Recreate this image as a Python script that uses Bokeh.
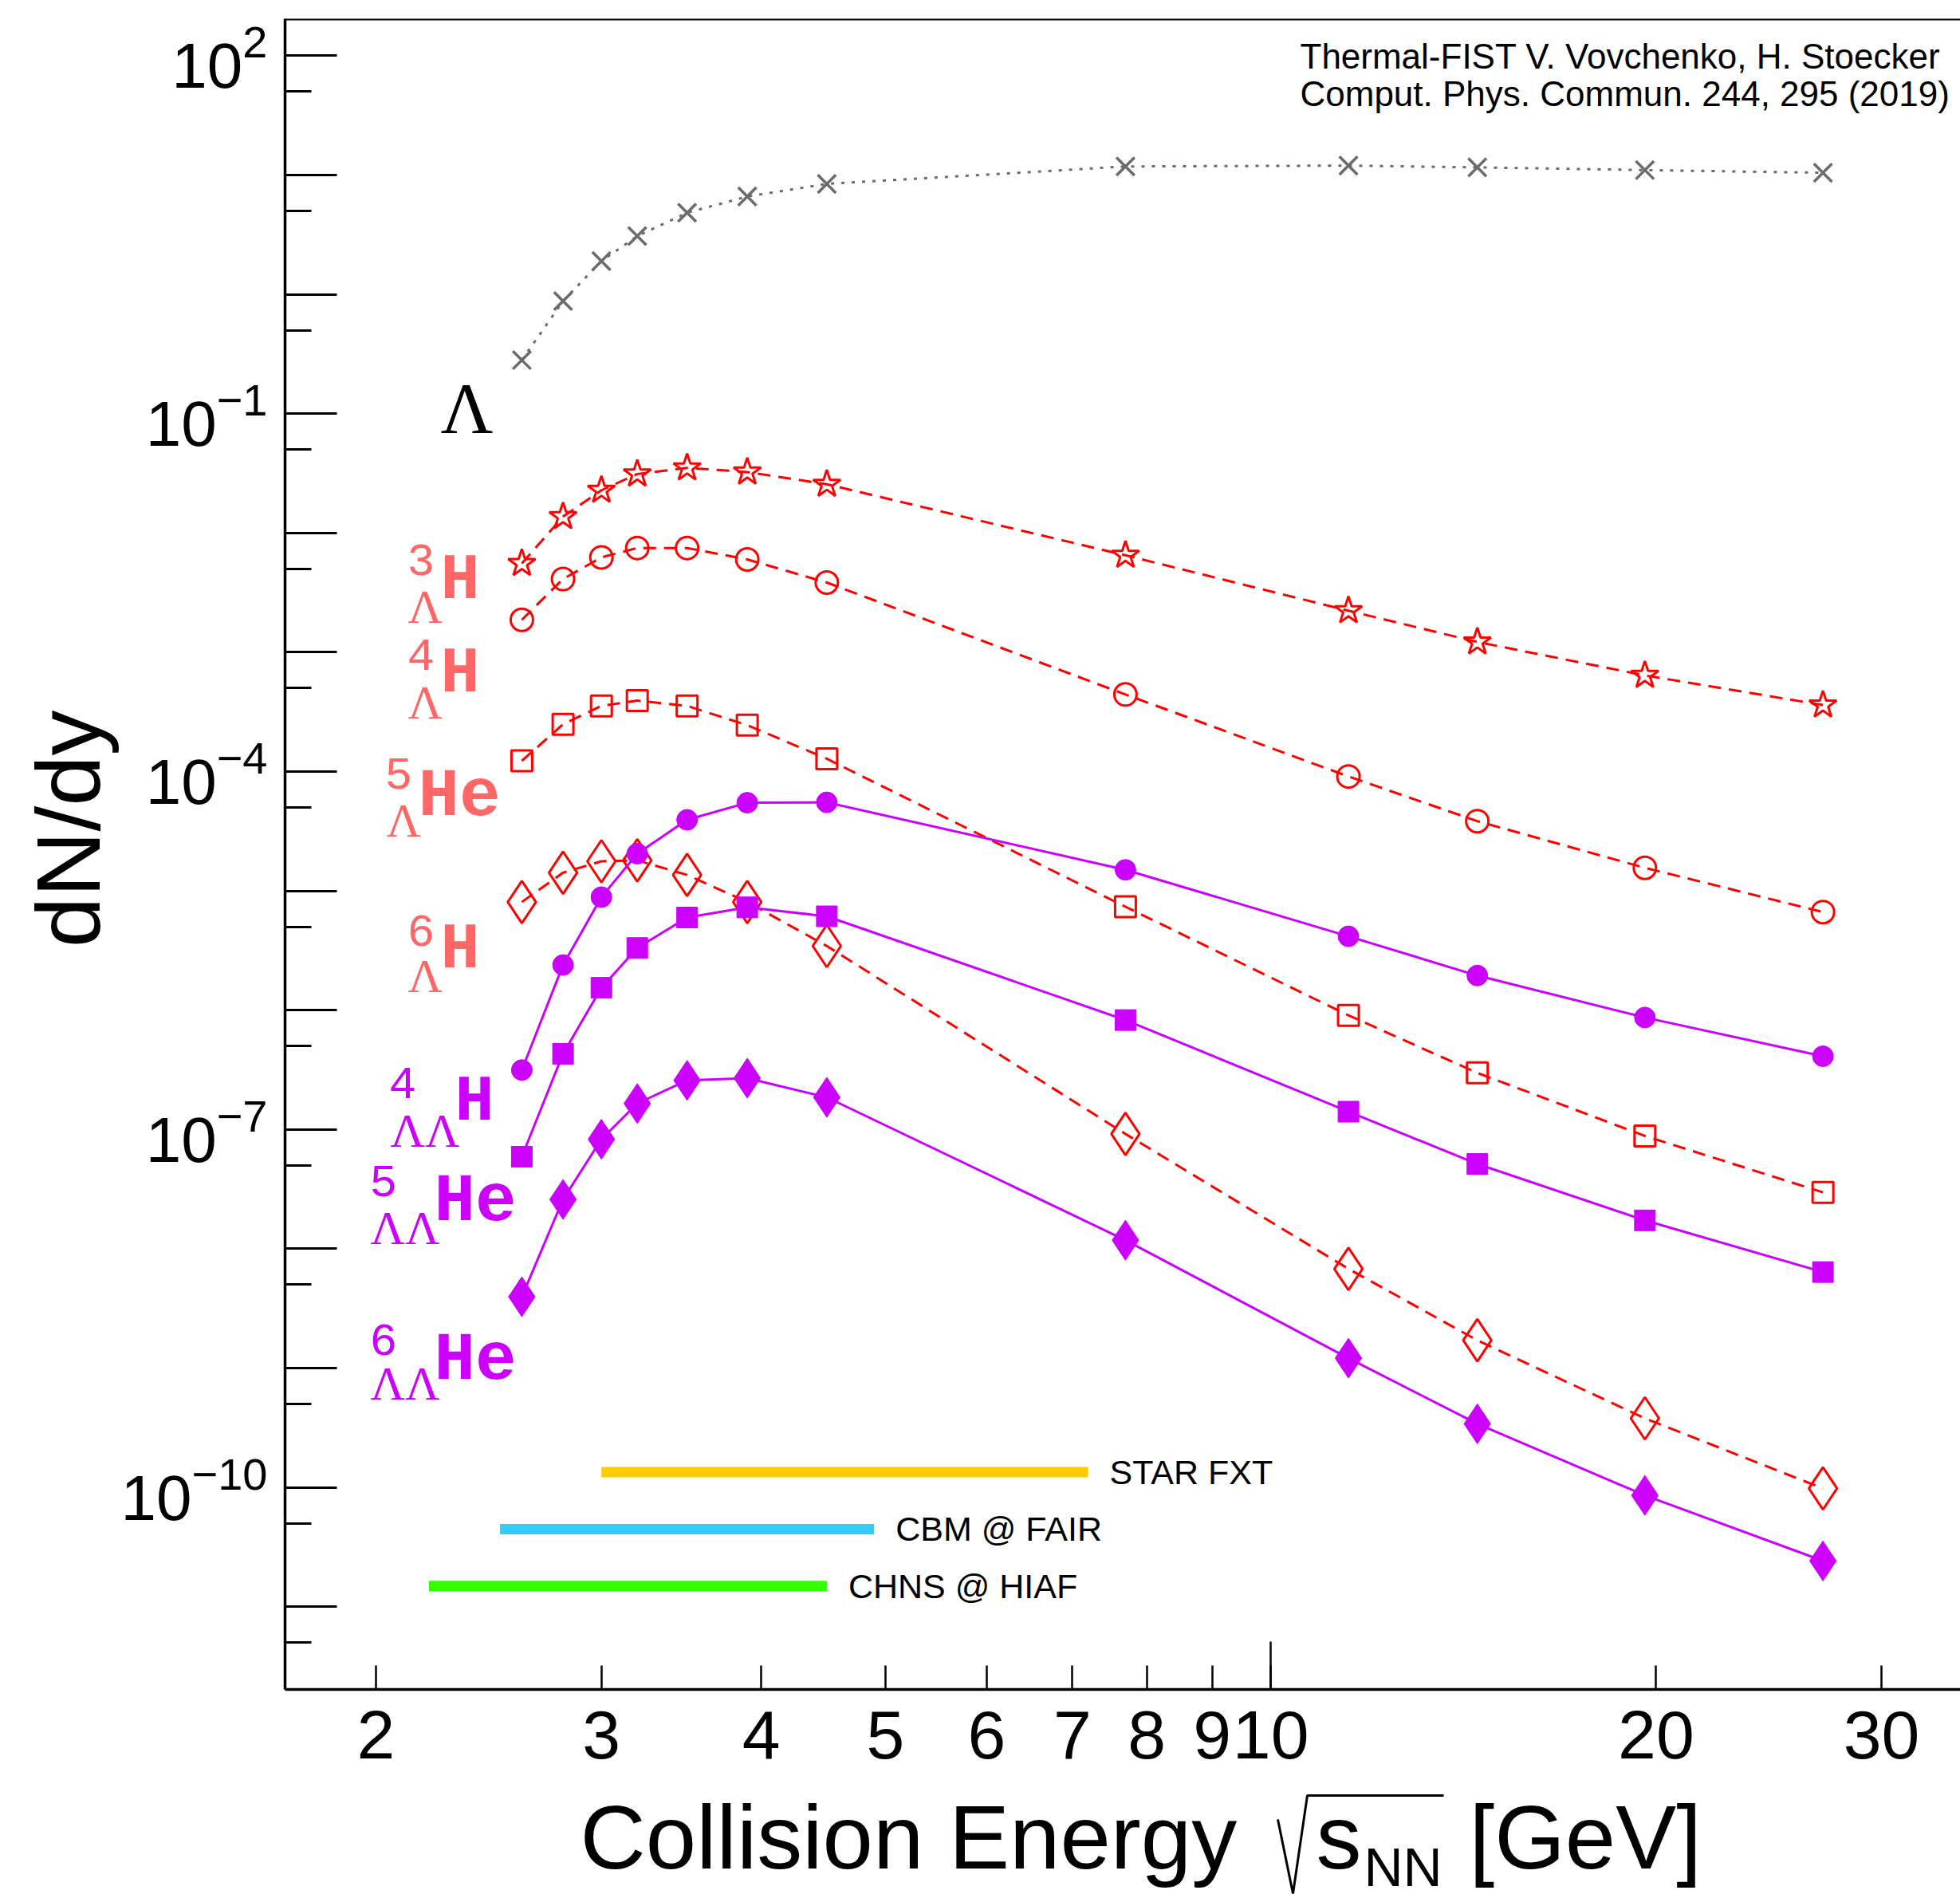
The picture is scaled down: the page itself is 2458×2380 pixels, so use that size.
import math
from bokeh.plotting import figure
from bokeh.layouts import column
from bokeh.models import (Range1d, FixedTicker, Label, Span, LogTickFormatter,
                          NumeralTickFormatter)
from bokeh.embed import file_html
from bokeh.resources import INLINE

# ---------------- data ----------------
energy = [2.6, 2.8, 3.0, 3.2, 3.5, 3.9, 4.5, 7.7, 11.5, 14.5, 19.6, 27.0]
lam   = [0.281, 0.879, 1.90, 3.08, 4.83, 6.61, 8.43, 11.8, 12.0, 11.6, 11.0, 10.45]
h3l   = [5.55e-3, 1.37e-2, 2.28e-2, 3.12e-2, 3.51e-2, 3.24e-2, 2.56e-2, 6.5e-3, 2.23e-3, 1.22e-3, 6.4e-4, 3.61e-4]
h4l   = [1.87e-3, 4.11e-3, 6.24e-3, 7.48e-3, 7.48e-3, 6.0e-3, 3.84e-3, 4.43e-4, 9.1e-5, 3.84e-5, 1.56e-5, 6.64e-6]
he5l  = [1.23e-4, 2.49e-4, 3.55e-4, 3.93e-4, 3.55e-4, 2.45e-4, 1.28e-4, 7.36e-6, 9.05e-7, 2.98e-7, 8.83e-8, 2.97e-8]
h6l   = [8.06e-6, 1.42e-5, 1.77e-5, 1.80e-5, 1.36e-5, 8.06e-6, 3.45e-6, 9.18e-8, 6.79e-9, 1.71e-9, 3.79e-10, 9.8e-11]
h4ll  = [3.15e-7, 2.39e-6, 8.86e-6, 2.05e-5, 3.94e-5, 5.48e-5, 5.52e-5, 1.50e-5, 4.16e-6, 1.95e-6, 8.68e-7, 4.11e-7]
he5ll = [5.91e-8, 4.31e-7, 1.54e-6, 3.32e-6, 5.98e-6, 7.28e-6, 6.12e-6, 8.26e-7, 1.41e-7, 5.14e-8, 1.73e-8, 6.38e-9]
he6ll = [3.96e-9, 2.59e-8, 8.28e-8, 1.65e-7, 2.58e-7, 2.69e-7, 1.86e-7, 1.18e-8, 1.21e-9, 3.41e-10, 8.57e-11, 2.42e-11]

exp_names = ["STAR FXT", "CBM @ FAIR", "CHNS @ HIAF"]
exp_lo = [3.0, 2.5, 2.2]
exp_hi = [7.2, 4.9, 4.5]
exp_level = [1.34e-10, 4.47e-11, 1.49e-11]
exp_colors = ["#ffcc00", "#33ccff", "#33ff00"]

x_ticks = [2, 3, 4, 5, 6, 7, 8, 9, 10, 20, 30]
y_decades = [10.0 ** k for k in range(-11, 3)]
y_labeled = [1e2, 1e-1, 1e-4, 1e-7, 1e-10]

# ---------------- layout (page pixels) ----------------
W = 2458
HM = 2238                 # main figure height
HT = 2380 - HM            # x-title strip height
FL, FT = 357, 23          # frame left / top
FW, FH = W - FL, 2095     # frame width / height
LX0 = 0.47712 + (FL - 753.7) / 1605.4
LX1 = LX0 + FW / 1605.4
LY1 = -4 + (967 - FT) / 149.6
LY0 = LY1 - FH / 149.6


def X(px):
    return 10 ** (LX0 + (px - FL) / FW * (LX1 - LX0))


def Y(py):
    return 10 ** (LY1 - (py - FT) / FH * (LY1 - LY0))


p = figure(width=W, height=HM, x_axis_type="log", y_axis_type="log",
           x_range=Range1d(10 ** LX0, 10 ** LX1), y_range=Range1d(10 ** LY0, 10 ** LY1),
           output_backend="svg", toolbar_location=None,
           min_border_left=FL, min_border_right=0, min_border_top=FT,
           min_border_bottom=HM - FT - FH)
p.outline_line_color = None
p.grid.visible = False

RED = "#ff0000"
PUR = "#cc00ff"
GREY = "#6b6b6b"
SALMON = "#ff6666"

# axes
xa = p.xaxis[0]
xa.ticker = FixedTicker(ticks=x_ticks, minor_ticks=[10])
xa.formatter = NumeralTickFormatter(format="0")
xa.major_tick_in = 30
xa.major_tick_out = 0
xa.minor_tick_in = 60
xa.minor_tick_out = 0
xa.major_tick_line_width = 2.5
xa.minor_tick_line_width = 2.5
xa.axis_line_width = 3.5
xa.major_label_text_font = "Liberation Sans"
xa.major_label_text_font_size = "86px"
xa.major_label_text_color = "black"
xa.major_label_standoff = 27

ya = p.yaxis[0]
ya.ticker = FixedTicker(ticks=y_decades, minor_ticks=[5 * 10.0 ** k for k in range(-12, 2)])
ya.formatter = LogTickFormatter()
ya.major_label_overrides = {t: "" for t in y_decades if t not in y_labeled}
ya.major_tick_in = 65
ya.major_tick_out = 0
ya.minor_tick_in = 33
ya.minor_tick_out = 0
ya.major_tick_line_width = 3
ya.minor_tick_line_width = 3
ya.axis_line_width = 3.5
ya.major_label_text_font = "Liberation Sans"
ya.major_label_text_font_size = "80px"
ya.major_label_text_color = "black"
ya.major_label_standoff = 22
ya.axis_label = "\u00a0\u00a0dN/dy"
ya.axis_label_text_font = "Liberation Sans"
ya.axis_label_text_font_size = "114px"
ya.axis_label_text_font_style = "normal"
ya.axis_label_text_color = "black"
ya.axis_label_standoff = 0

p.add_layout(Span(location=10 ** LY1, dimension="width", line_color="black", line_width=4))

# ---------------- series ----------------
p.line(energy, lam, line_color=GREY, line_width=3, line_dash="4 9")
p.scatter(energy, lam, marker="x", size=32, line_color=GREY, line_width=3.5)

for vals, mk, sz in [(h3l, "star", 36), (h4l, "circle", 28), (he5l, "square", 26), (h6l, "diamond", 53)]:
    p.line(energy, vals, line_color=RED, line_width=3, line_dash="16 10")
    p.scatter(energy, vals, marker=mk, size=sz, fill_color=None, line_color=RED, line_width=3)

for vals, mk, sz in [(h4ll, "circle", 26), (he5ll, "square", 26), (he6ll, "diamond", 50)]:
    p.line(energy, vals, line_color=PUR, line_width=3)
    p.scatter(energy, vals, marker=mk, size=sz, fill_color=PUR, line_color=PUR, line_width=1)

# experiment ranges
p.segment(x0=exp_lo, y0=exp_level, x1=exp_hi, y1=exp_level, line_color=exp_colors, line_width=13)
for name, hi, lev in zip(exp_names, exp_hi, exp_level):
    p.add_layout(Label(x=hi, y=lev, x_offset=27, text=name, text_baseline="middle",
                       text_font="Liberation Sans", text_font_size="43px", text_color="black"))


def lab(text, fx, fy, font, size, color, bold=False):
    # fx: left edge, fy: vertical centre of the glyphs (page pixels)
    p.add_layout(Label(x=X(fx), y=Y(fy), text=text, text_font=font, text_font_size=f"{size}px",
                       text_color=color, text_font_style="bold" if bold else "normal",
                       text_baseline="middle", text_align="left"))


# credits
lab("Thermal-FIST V. Vovchenko, H. Stoecker", 1630, 70, "Liberation Sans", 44, "black")
lab("Comput. Phys. Commun. 244, 295 (2019)", 1630, 117, "Liberation Sans", 44, "black")

# Lambda label
lab("\u039b", 552, 512, "Liberation Serif", 91, "black")

# hypernuclei labels: (sup, sub, sym, color, sup_x, sup_c, sub_x, sub_c, sym_x, sym_c)
nuclei = [
    ("3", "\u039b", "H", SALMON, 510, 701, 511, 760, 552, 728),
    ("4", "\u039b", "H", SALMON, 510, 820, 511, 880, 552, 845),
    ("5", "\u039b", "He", SALMON, 482, 969, 484, 1028, 524, 998),
    ("6", "\u039b", "H", SALMON, 510, 1166, 511, 1223, 552, 1191),
    ("4", "\u039b\u039b", "H", PUR, 487, 1357, 489, 1417, 570, 1382),
    ("5", "\u039b\u039b", "He", PUR, 463, 1480, 464, 1539, 544, 1506),
    ("6", "\u039b\u039b", "He", PUR, 463, 1679, 464, 1734, 544, 1705),
]
for sup, sub, sym, col, sx, sy, bx, by, hx, hy in nuclei:
    lab(sup, sx, sy, "Liberation Mono", 58, col)
    lab(sub, bx, by, "Liberation Serif", 60, col)
    lab(sym, hx, hy, "Liberation Mono", 86 if sym == "He" else 82, col, bold=True)

# ---------------- x-axis title strip ----------------
# the strip's frame is aligned with the main frame (x from FL to W)
t = figure(width=W, height=HT, x_range=Range1d(FL, W), y_range=Range1d(HT, 0),
           output_backend="svg", toolbar_location=None,
           x_axis_location=None, y_axis_location=None,
           min_border=0, min_border_left=FL, min_border_right=0,
           min_border_top=0, min_border_bottom=0)
t.outline_line_color = None
t.grid.visible = False


def tlab(text, fx, fy, size):
    t.add_layout(Label(x=fx, y=fy - HM, text=text, text_font="Liberation Sans",
                       text_font_size=f"{size}px", text_color="black",
                       text_baseline="middle", text_align="left"))


tlab("Collision Energy", 727, 2303, 114)
tlab("s", 1650, 2303, 114)
tlab("NN", 1710, 2340, 68)
tlab("[GeV]", 1842, 2303, 114)
rad_x = [1602, 1621, 1639, 1810]
rad_y = [2281 - HM, 2374 - HM, 2251 - HM, 2251 - HM]
t.line(rad_x, rad_y, line_color="black", line_width=3)

open("out.html", "w").write(file_html(column(p, t, spacing=0), INLINE))
